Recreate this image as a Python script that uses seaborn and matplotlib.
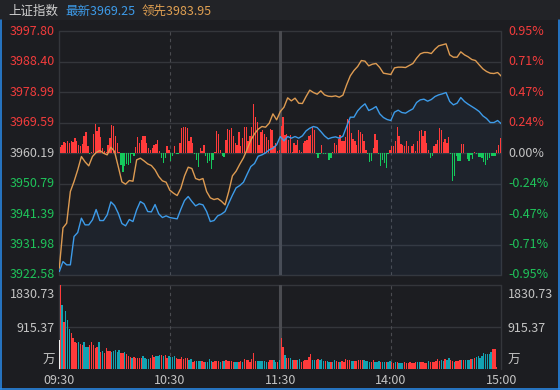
import numpy as np
import matplotlib
matplotlib.use("Agg")
import matplotlib.pyplot as plt
from matplotlib.lines import Line2D
import seaborn as sns

sns.set_theme(style="dark")
plt.rcParams['font.family'] = ['Noto Sans CJK SC', 'DejaVu Sans']

# ---------------- data ----------------
index_name = "上证指数"
latest_label = "最新"
latest_value = "3969.25"
leading_label = "领先"
leading_value = "3983.95"
prev_close = 3960.19
price_ticks = [3997.80, 3988.40, 3978.99, 3969.59, 3960.19, 3950.79, 3941.39, 3931.98, 3922.58]
price_tick_labels = ["3997.80", "3988.40", "3978.99", "3969.59", "3960.19", "3950.79", "3941.39", "3931.98", "3922.58"]
pct_tick_labels = ["0.95%", "0.71%", "0.47%", "0.24%", "0.00%", "-0.24%", "-0.47%", "-0.71%", "-0.95%"]
vol_max = 1830.73
vol_mid = 915.37
vol_tick_labels = ["1830.73", "915.37"]
vol_unit = "万"
time_labels = ["09:30", "10:30", "11:30", "14:00", "15:00"]
time_minutes = [0, 60, 120, 180, 240]

# index price, sampled every 2 minutes
price = [3923.65, 3926.73, 3925.71, 3925.71, 3934.45, 3935.69, 3940.11, 3938.05, 3938.05, 3939.60,
         3942.79, 3939.39, 3939.39, 3941.14, 3945.15, 3944.02, 3941.65, 3938.47, 3937.75, 3939.70,
         3939.08, 3942.68, 3945.26, 3944.54, 3942.17, 3942.07, 3944.33, 3941.45, 3940.32, 3940.83,
         3940.32, 3940.11, 3939.91, 3942.89, 3945.57, 3946.80, 3945.26, 3943.92, 3944.54, 3944.23,
         3942.17, 3939.08, 3939.39, 3940.83, 3941.35, 3942.17, 3944.74, 3947.21, 3949.47, 3950.20,
         3951.22, 3953.69, 3956.06, 3956.99, 3959.25, 3959.66, 3960.28, 3961.21, 3961.72, 3962.75,
         3965.32, 3963.98, 3965.32, 3964.81, 3965.32, 3964.81, 3965.53, 3967.07, 3967.89, 3968.41,
         3968.10, 3966.87, 3965.53, 3964.60, 3965.01, 3965.22, 3964.81, 3965.42, 3968.41, 3971.29,
         3971.29, 3973.25, 3974.48, 3975.41, 3973.35, 3973.86, 3974.58, 3972.32, 3971.19, 3970.57,
         3970.26, 3972.83, 3973.45, 3972.73, 3972.53, 3973.25, 3973.86, 3975.82, 3976.64, 3976.85,
         3976.23, 3976.74, 3977.67, 3978.18, 3978.49, 3978.90, 3976.13, 3975.10, 3975.61, 3977.36,
         3976.13, 3975.30, 3974.58, 3973.86, 3973.04, 3971.70, 3970.88, 3969.64, 3969.64, 3970.26,
         3969.25]

# leading index, sampled every 2 minutes
leading = [3924.68, 3937.13, 3938.57, 3948.34, 3951.43, 3955.03, 3959.15, 3957.50, 3956.27, 3959.15,
           3960.38, 3961.00, 3960.18, 3959.66, 3962.03, 3960.69, 3956.06, 3951.33, 3950.61, 3951.74,
           3951.53, 3958.12, 3958.63, 3957.81, 3956.88, 3956.37, 3955.03, 3952.97, 3951.64, 3951.22,
           3948.76, 3947.83, 3947.11, 3949.37, 3953.18, 3955.86, 3955.44, 3952.36, 3951.94, 3952.36,
           3948.34, 3946.39, 3945.87, 3946.18, 3945.36, 3944.23, 3948.34, 3953.18, 3954.62, 3956.78,
           3958.74, 3961.41, 3964.19, 3966.15, 3967.59, 3968.41, 3968.20, 3969.44, 3972.32, 3970.47,
           3973.04, 3974.38, 3977.26, 3976.33, 3977.16, 3975.61, 3975.51, 3977.67, 3979.63, 3978.90,
           3978.39, 3979.42, 3978.18, 3977.77, 3977.67, 3977.88, 3977.46, 3978.08, 3981.27, 3984.05,
           3985.70, 3986.93, 3988.78, 3988.58, 3987.14, 3987.65, 3987.86, 3986.62, 3984.87, 3984.67,
           3984.46, 3986.52, 3986.73, 3986.73, 3986.62, 3987.24, 3987.86, 3989.50, 3990.84, 3991.25,
           3991.25, 3990.94, 3992.28, 3993.31, 3993.62, 3993.93, 3990.53, 3989.81, 3989.81, 3991.46,
           3990.53, 3989.92, 3989.09, 3988.78, 3987.45, 3986.21, 3985.39, 3984.87, 3984.77, 3985.08,
           3983.95]

# buy/sell strength bars per minute (in index points around previous close)
power = [1.9, 2.6, 3.4, 3.1, 3.8, 3.1, 3.9, 3.3, 4.6, 3.8, 2.4, 2.3, 2.8, 5.4, 6.5, 2.3, -0.2, 0.5, 6.0, 9.1,
         6.7, 8.0, 4.9, 1.5, 0.8, 0.5, 2.4, 4.6, 8.7, 8.3, 5.4, 3.1, 0.5, -3.6, -5.7, -4.1, -3.3, -3.6, -2.9, -0.2,
         -0.8, 1.9, 4.9, 3.1, 4.1, 5.4, 5.4, 3.1, 1.5, 1.0, 1.5, 2.6, 2.9, 4.1, 0.8, -1.5, -3.1, -1.5, 2.1, 1.0,
         -2.4, -1.0, 2.1, -0.2, -0.2, 3.1, 7.9, 8.1, 8.0, 7.7, 3.6, 4.9, 3.1, -0.2, -2.1, -4.3, 1.5, 0.8, 2.6, -0.8,
         -2.9, -2.3, -4.9, -2.1, 0.3, 6.7, 6.0, 1.0, -0.8, -1.2, 4.1, 7.5, 7.2, 7.7, 5.4, 3.1, 2.6, 6.4, 2.1, 4.6,
         8.2, 8.2, 3.9, 5.4, 8.2, 15.2, 11.1, 9.6, 2.6, 6.6, 7.2, 6.0, 4.9, 4.1, 7.4, 7.2, 2.1, 3.1, 0.8, 1.0,
         8.4, 11.1, 5.7, 6.0, 4.1, 5.7, 0.3, 3.1, 2.6, 4.1, 1.0, 0.5, 3.1, 3.6, 4.1, 5.4, 5.7, 8.2, 7.2, -0.2,
         -1.5, -0.2, 2.6, -0.2, -0.2, -0.1, -2.1, -1.5, 0.5, 3.1, 2.6, 4.3, 5.7, 3.6, 3.9, 5.1, 10.5, 9.8, 6.2, 4.3,
         3.6, 2.6, 7.2, 6.4, 6.0, 3.8, 1.0, -0.2, -2.6, -2.3, 1.5, 6.0, 4.1, -0.2, -4.1, -2.1, -2.9, -4.6, -0.2, 1.0,
         2.1, 2.3, 3.8, 8.0, 5.4, 2.9, 2.6, 2.1, 3.9, 2.3, -0.1, 2.1, 2.9, 0.8, 3.6, 6.7, 7.0, 5.4, 6.7, 3.1,
         1.0, -1.5, -0.8, 2.3, 2.8, 4.1, 7.7, 7.2, 3.3, 4.3, 3.1, 4.9, -0.2, -8.7, -7.2, -0.8, -2.3, -2.3, 2.9, 2.9,
         0.2, -1.9, -2.3, -0.5, -1.9, 0.5, -0.2, -1.2, -1.2, -1.5, -2.6, -3.6, -2.1, -1.5, -0.8, -1.0, -0.8, 1.0, 2.6, 4.6]

# volume per minute (万手)
volume = [1830.73, 1402, 1039, 1271, 1075, 872, 799, 676, 596, 567, 596, 552, 530, 596, 479, 479, 523, 596, 523, 465,
          479, 596, 378, 400, 356, 458, 400, 400, 378, 400, 421, 378, 421, 349, 349, 378, 327, 291, 262, 247,
          262, 247, 247, 247, 247, 291, 247, 225, 232, 247, 312, 262, 283, 291, 305, 305, 291, 305, 247, 291,
          262, 269, 291, 247, 225, 225, 262, 232, 240, 247, 203, 225, 160, 174, 182, 182, 174, 174, 160,
          160, 167, 225, 182, 160, 182, 182, 182, 160, 182,
          182, 203, 182, 182, 182, 160, 160, 160, 160, 182,
          160, 225, 196, 203, 160, 225, 356, 182, 182, 182,
          182, 182, 182, 160, 167, 196, 203, 203, 160, 160,
          203, 676, 487, 312, 254, 247, 240, 203, 203, 203,
          203, 225, 160, 182, 203, 203, 269, 334, 203, 203,
          203, 225, 203, 225, 182, 182, 182, 160, 160, 160,
          203, 182, 160, 160, 182, 160, 225, 203, 203,
          182, 182, 182, 182, 203, 203, 203, 203, 182, 182,
          160, 160, 203, 160, 160, 182, 160, 160, 160, 160,
          160, 182, 160, 138, 160, 160, 138, 138, 138, 160,
          138, 138, 160, 138, 138, 160, 160, 160, 160, 160,
          138, 138, 182, 160, 160, 160, 182, 225, 182, 203,
          182, 225, 203, 247, 203, 182, 160, 182, 182, 203,
          203, 203, 203, 203, 203, 225, 225, 247, 269, 291,
          247, 291, 356, 334, 334, 334, 378, 443, 443, 51,
          0, 0]
# minute direction: R = up (red), T = down (teal)
volume_dir = ("RTRTTTRRRR" "TRRTTTRRRR" "RTRTRRRRTT" "TTTRRTRRRT" "RRRRRTTTTR" "RRTTTRTRRT" "TTTRRRRRRR" "TTRRTTTRR"
              "TTTTRRRRTR" "TRRRRRTTRR" "TRRRRRRRTT" "TTTTRRRTTR" "TRRTRRTTRR" "TTRRRRRRTT" "RRTTTRTTRT" "TRRTRRRRR"
              "TTRRRRRTTT" "TRRTTTRTTR" "TTRRTRTTTR" "RRRRRRTTRR" "RRTRRRRRRT" "TRTTRRTRRR" "TRTTTRTRTT" "TTTTTTTRRR" "RR")
open_auction_volume = 639
close_auction_volume = 748

# ---------------- style ----------------
BG = "#1c1d21"
HEADER_BG = "#222327"
GRID = "#34363b"
SEP = "#4a4b50"
RED = "#ff3b3b"
GREEN = "#14c95c"
TEAL = "#12a3b3"
BLUE = "#3d9be9"
ORANGE = "#dd9b52"
TXT = "#c4c4c4"
LBL_RED = "#f23c3c"
LBL_GREEN = "#1fc35a"
FRAME = "#2a8ef0"

W, H = 560, 390
fig = plt.figure(figsize=(W / 100, H / 100), dpi=100, facecolor=BG)


def px_axes(x0, y0, x1, y1):
    a = fig.add_axes([x0 / W, 1 - y1 / H, (x1 - x0) / W, (y1 - y0) / H])
    a.set_facecolor(BG)
    for s in a.spines.values():
        s.set_visible(False)
    a.set_xticks([])
    a.set_yticks([])
    a.grid(False)
    return a


X0, X1 = 59.3, 501.3
MY0, MY1 = 31.3, 275.0
VY0, VY1 = 285.3, 369.3

# header
fig.patches.append(plt.Rectangle((0, 1 - 20 / H), 1, 20 / H, transform=fig.transFigure,
                                 facecolor=HEADER_BG, edgecolor="none", zorder=0))
fig.text(8 / W, 1 - 11 / H, index_name, color="#d0d0d0", fontsize=9, va="center", ha="left")
fig.text(65 / W, 1 - 11 / H, latest_label + latest_value, color=BLUE, fontsize=9, va="center", ha="left")
fig.text(142 / W, 1 - 11 / H, leading_label + leading_value, color="#e0a052", fontsize=9, va="center", ha="left")

# ---------------- main panel ----------------
ax = px_axes(X0, MY0, X1, MY1)
ax.set_xlim(0, 240)
ax.set_ylim(price_ticks[-1], price_ticks[0])

for p in price_ticks:
    ax.axhline(p, color=GRID, lw=1.0, zorder=0, clip_on=False)
for m in (0, 240):
    ax.axvline(m, color=GRID, lw=1.0, zorder=0, clip_on=False)
ax.axvline(60, color=SEP, lw=0.8, ls=(0, (3, 3)), zorder=0)
ax.axvline(180, color=SEP, lw=0.8, ls=(0, (3, 3)), zorder=0)
ax.axvline(120, color=SEP, lw=2.2, zorder=0)

line_minutes = np.arange(len(price)) * 2
ax.fill_between(line_minutes, price, price_ticks[-1], color="#3a6aa0", alpha=0.09, lw=0, zorder=1)

bar_minutes = np.arange(len(power)) + 0.5
power_arr = np.array(power)
ax.bar(bar_minutes, power_arr, bottom=prev_close, width=0.72,
       color=[RED if v >= 0 else GREEN for v in power_arr], lw=0, antialiased=False, zorder=2)

sns.lineplot(x=line_minutes, y=leading, ax=ax, color=ORANGE, lw=1.0, zorder=4)
sns.lineplot(x=line_minutes, y=price, ax=ax, color=BLUE, lw=1.0, zorder=5)
ax.set_xlabel("")
ax.set_ylabel("")
ax.set_xticks([])
ax.set_yticks([])

# price / percent labels
for p, lab, pl in zip(price_ticks, price_tick_labels, pct_tick_labels):
    ypx = MY0 + (price_ticks[0] - p) / (price_ticks[0] - price_ticks[-1]) * (MY1 - MY0)
    if p > prev_close + 0.01:
        c = LBL_RED
    elif p < prev_close - 0.01:
        c = LBL_GREEN
    else:
        c = TXT
    fig.text(55 / W, 1 - ypx / H, lab, color=c, fontsize=9, ha="right", va="center")
    fig.text(508 / W, 1 - ypx / H, pl, color=c, fontsize=9, ha="left", va="center")

# ---------------- volume panel ----------------
axv = px_axes(X0, VY0, X1, VY1)
axv.set_xlim(0, 240)
axv.set_ylim(0, vol_max)
axv.axhline(vol_max, color=GRID, lw=1.0, zorder=0, clip_on=False)
axv.axhline(vol_mid, color=GRID, lw=1.0, zorder=0)
for m in (0, 240):
    axv.axvline(m, color=GRID, lw=1.0, zorder=0, clip_on=False)
axv.axvline(60, color=SEP, lw=0.8, ls=(0, (3, 3)), zorder=0)
axv.axvline(180, color=SEP, lw=0.8, ls=(0, (3, 3)), zorder=0)
axv.axvline(120, color=SEP, lw=2.2, zorder=0)

vol_minutes = np.arange(len(volume)) + 0.5
axv.bar(vol_minutes, volume, width=0.75,
        color=[RED if d == "R" else TEAL for d in volume_dir], lw=0, antialiased=False, zorder=2)
axv.bar([0], [open_auction_volume], width=0.8, color="#f0f0f0", lw=0, antialiased=False, zorder=3)
axv.bar([240], [close_auction_volume], width=0.8, color=TEAL, lw=0, antialiased=False, zorder=3)

for lab, ypx in zip(vol_tick_labels + [vol_unit], [294, 328.3, 360.7]):
    fig.text(55 / W, 1 - ypx / H, lab, color=TXT, fontsize=9, ha="right", va="center")
    fig.text(508 / W, 1 - ypx / H, lab, color=TXT, fontsize=9, ha="left", va="center")

for lab, m in zip(time_labels, time_minutes):
    xpx = X0 + m / 240 * (X1 - X0)
    fig.text(xpx / W, 1 - 380 / H, lab, color=TXT, fontsize=9, ha="center", va="center")

# focus frame
for xs, ys in (([0.75, 0.75], [20, 389.25]), ([559.25, 559.25], [20, 389.25]), ([0, 560], [389.25, 389.25])):
    fig.add_artist(Line2D([x / W for x in xs], [1 - y / H for y in ys], transform=fig.transFigure,
                          color=FRAME, lw=1.1))

fig.savefig("out.png", dpi=100, facecolor=BG)
